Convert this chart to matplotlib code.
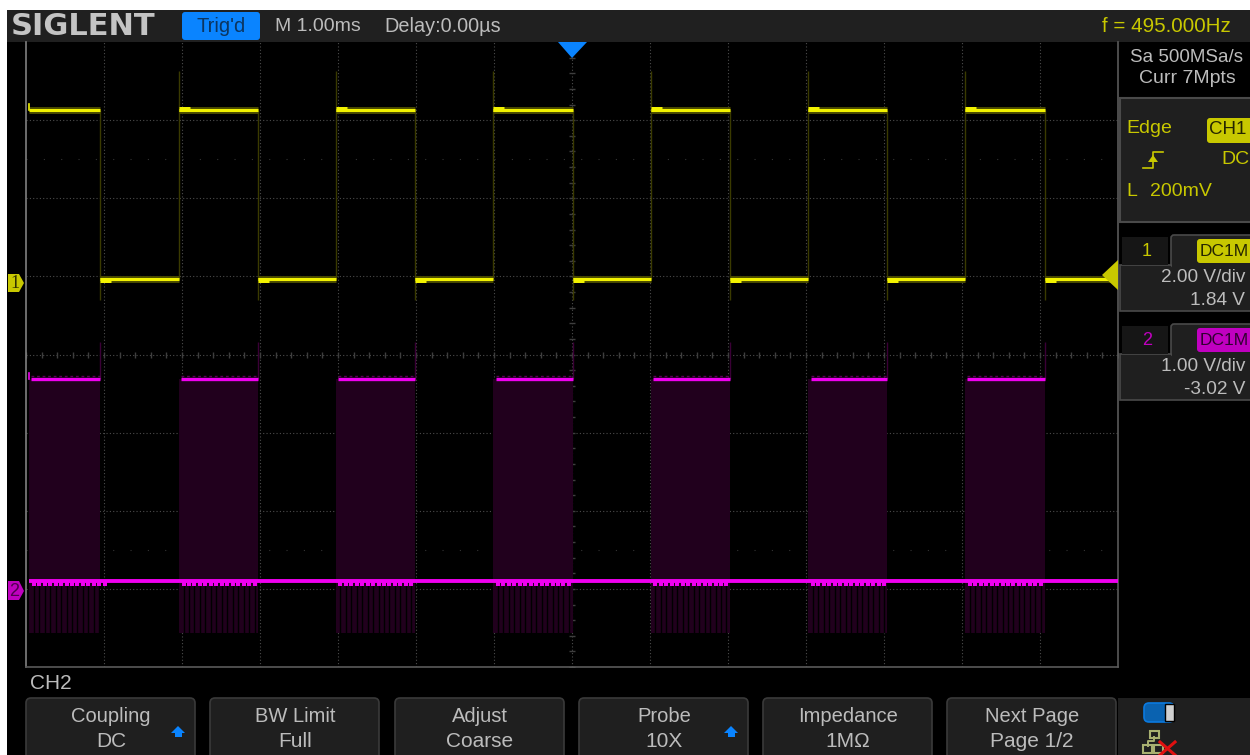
import matplotlib
matplotlib.use("Agg")
import matplotlib.pyplot as plt
from matplotlib.patches import Rectangle, FancyBboxPatch, Polygon

plt.rcParams['font.family'] = ['Liberation Sans', 'DejaVu Sans']

# Scope readings, time in ms, voltages in V
rising_ms = [-6.96, -5.04, -3.03, -1.01, 1.01, 3.03, 5.04]
falling_ms = [-6.05, -4.03, -2.01, 0.01, 2.03, 4.04, 6.06]
ch1_high = 4.42
ch1_low = 0.09
ch1_spike_top = 5.42
ch1_spike_bottom = -0.44
ch2_high = 2.71
ch2_low = 0.12
ch2_comb = -0.55
ch2_edge_top = 3.18
comb_offsets = [0.06, 0.13, 0.20, 0.27, 0.34, 0.41, 0.48, 0.55, 0.62, 0.69, 0.76, 0.83, 0.90, 0.97]

ch1_scale, ch1_offset = 2.0, 1.84
ch2_scale, ch2_offset = 1.0, -3.02

button_top = ["Coupling", "BW Limit", "Adjust", "Probe", "Impedance", "Next Page"]
button_bottom = ["DC", "Full", "Coarse", "10X", "1MΩ", "Page 1/2"]
button_left = [26, 210, 395, 579, 763, 947]
button_arrow = [True, False, False, True, False, False]

YELLOW = "#f2f200"
DIM_YELLOW = "#c8c800"
MAGENTA = "#f000f0"
DIM_MAGENTA = "#c000c0"
PANEL = "#1f1f1f"
EDGE = "#4a4a4a"
TEXT = "#bcbcbc"
BLUE = "#0a84ff"


def ch1(v):
    return (v + ch1_offset) / ch1_scale


def ch2(v):
    return (v + ch2_offset) / ch2_scale


fig = plt.figure(figsize=(12.5, 7.55), dpi=100, facecolor="white")

# Whole picture in pixels, for the instrument chrome
ui = fig.add_axes([0, 0, 1, 1], zorder=1)
ui.set_xlim(0, 1250)
ui.set_ylim(755, 0)
ui.axis("off")

ui.add_patch(Rectangle((7, 10), 1243, 745, fc="black", ec="none"))
ui.add_patch(Rectangle((7, 10), 1243, 32, fc="#202020", ec="none"))

# Plot area, one unit per division on y and 1 ms per division on x
ax = fig.add_axes([26 / 1250, 88 / 755, 1092 / 1250, 625 / 755], zorder=2)
ax.set_facecolor("black")
ax.set_xlim(-7, 7)
ax.set_ylim(-4, 4)
ax.set_xticks([])
ax.set_yticks([])
for s in ax.spines.values():
    s.set_color("#5a5a5a")
    s.set_linewidth(1.2)
ax.spines["left"].set_color("#808080")
ax.spines["top"].set_visible(False)

dots = (0, (1, 2))
for d in range(-6, 7):
    ax.axvline(d, color="#4c4c4c", lw=0.8, ls=dots, zorder=1)
for d in range(-3, 4):
    ax.axhline(d, color="#4c4c4c", lw=0.8, ls=dots, zorder=1)
for d in [-2.5, 2.5]:
    ax.axhline(d, color="#343434", lw=0.8, ls=(0, (1, 14.6)), zorder=1)

# Fifth-of-a-division ticks along the two centre lines
fifths = [i / 5 for i in range(-35, 36)]
ax.plot(fifths, [0] * len(fifths), "|", color="#3e3e3e", ms=4, mew=1, zorder=1)
fifths_y = [i / 5 for i in range(-20, 21)]
ax.plot([0] * len(fifths_y), fifths_y, "_", color="#3e3e3e", ms=4, mew=1, zorder=1)

# CH2 envelope goes under the traces and hides the grid
for r, f in zip(rising_ms, falling_ms):
    ax.fill_between([r, f], ch2(ch2_comb), ch2(ch2_high), color="#21001d", lw=0, zorder=2)
    for c in comb_offsets:
        ax.vlines(r + c, ch2(ch2_comb), ch2(ch2_low) - 0.05, color="black", lw=1.0, zorder=3)
        ax.plot([r + c], [ch2(ch2_low) - 0.035], "s", color=MAGENTA, ms=3.4, mew=0, zorder=5)
    ax.vlines(f, ch2(ch2_high), ch2(ch2_edge_top), color="#3a0036", lw=1, zorder=3)
    ax.plot([r + 0.03, f], [ch2(ch2_high) + 0.04] * 2, color="#5a0056", lw=1, ls=(0, (2, 2)), zorder=4)
    ax.plot([r + 0.03, f], [ch2(ch2_high), ch2(ch2_high)], color=MAGENTA, lw=2.4, zorder=5,
            solid_capstyle="butt")
ax.plot([-6.96, 7], [ch2(ch2_low), ch2(ch2_low)], color=MAGENTA, lw=2.8, zorder=5,
        solid_capstyle="butt")
ax.plot([-6.96, -6.96], [ch2(ch2_high), ch2(ch2_high) + 0.07], color=MAGENTA, lw=1.2, zorder=5)

# CH1 square wave
for r in rising_ms[1:]:
    ax.vlines(r, ch1(ch1_low), ch1(ch1_spike_top), color="#3a3a00", lw=1, zorder=3)
for f in falling_ms:
    ax.vlines(f, ch1(ch1_spike_bottom), ch1(ch1_high), color="#3a3a00", lw=1, zorder=3)
for i, (r, f) in enumerate(zip(rising_ms, falling_ms)):
    ax.plot([r, f], [ch1(ch1_high), ch1(ch1_high)], color="#4a4a00", lw=5, zorder=4,
            solid_capstyle="butt")
    ax.plot([r, f], [ch1(ch1_high), ch1(ch1_high)], color=YELLOW, lw=2.2, zorder=5,
            solid_capstyle="butt")
    if i:
        ax.plot([r, r + 0.14], [ch1(ch1_high) + 0.012] * 2, color=YELLOW, lw=3.6, zorder=5,
                solid_capstyle="butt")
    else:
        ax.plot([r, r], [ch1(ch1_high), ch1(ch1_high) + 0.08], color=YELLOW, lw=1.2, zorder=5)
for f, r in zip(falling_ms, rising_ms[1:] + [7.0]):
    ax.plot([f, r], [ch1(ch1_low), ch1(ch1_low)], color="#4a4a00", lw=5, zorder=4,
            solid_capstyle="butt")
    ax.plot([f, r], [ch1(ch1_low), ch1(ch1_low)], color=YELLOW, lw=2.2, zorder=5,
            solid_capstyle="butt")
    ax.plot([f, f + 0.14], [ch1(ch1_low) - 0.012] * 2, color=YELLOW, lw=3.6, zorder=5,
            solid_capstyle="butt")

# Overlay for markers and text that sit over the plot
top = fig.add_axes([0, 0, 1, 1], zorder=3)
top.set_xlim(0, 1250)
top.set_ylim(755, 0)
top.axis("off")
top.patch.set_alpha(0)


def label(x, y, s, color=TEXT, size=14, ha="center", **kw):
    top.text(x, y + 1.5, s, color=color, fontsize=size, ha=ha, va="center", **kw)


def box(x, y, w, h, fc, ec="none", pad=3, lw=1):
    top.add_patch(FancyBboxPatch((x + pad, y + pad), w - 2 * pad, h - 2 * pad,
                                 boxstyle="round,pad=%d" % pad, fc=fc, ec=ec, lw=lw))


top.add_patch(Polygon([(558, 42), (587, 42), (572, 58)], fc=BLUE, ec="none"))
top.add_patch(Polygon([(1118, 260), (1118, 290), (1102, 275)], fc=DIM_YELLOW, ec="none"))
top.add_patch(Polygon([(8, 274), (19, 274), (24, 283), (19, 292), (8, 292)], fc=DIM_YELLOW, ec="none"))
top.add_patch(Polygon([(8, 581), (19, 581), (24, 591), (19, 600), (8, 600)], fc=DIM_MAGENTA, ec="none"))
label(14.5, 282, "1", color="#303000", size=13, family="Liberation Serif")
label(14.5, 590, "2", color="#500050", size=13)

# Header
label(83, 25, "SIGLENT", color="#c4c4c4", size=22, fontweight="bold", family="DejaVu Sans")
box(182, 12, 78, 28, BLUE)
label(221, 25, "Trig'd", color="#0c3560", size=14.5)
label(318, 25, "M 1.00ms", size=14)
label(443, 25, "Delay:0.00µs", size=14.3)
label(1166, 25, "f = 495.000Hz", color=DIM_YELLOW, size=14.8)

# Right hand panels
label(1187, 56, "Sa 500MSa/s", size=13.5)
label(1187, 77, "Curr 7Mpts", size=14)

top.add_patch(Rectangle((1120, 98), 135, 124, fc=PANEL, ec=EDGE, lw=1.5))
label(1126, 127, "Edge", color=DIM_YELLOW, size=14, ha="left")
box(1207, 118, 50, 25, DIM_YELLOW)
label(1228, 128, "CH1", color="#252500", size=13.5)
label(1235, 158, "DC", color=DIM_YELLOW, size=14)
label(1126, 190, "L", color=DIM_YELLOW, size=14, ha="left")
label(1181, 190, "200mV", color=DIM_YELLOW, size=14)
top.plot([1143, 1153, 1153, 1163], [168, 168, 152, 152], color=DIM_YELLOW, lw=1.2)
top.add_patch(Polygon([(1148, 162), (1158, 162), (1153, 155)], fc=DIM_YELLOW, ec="none"))

panels = [(235, "1", DIM_YELLOW, "#252500", "2.00 V/div", "1.84 V"),
          (324, "2", DIM_MAGENTA, "#300030", "1.00 V/div", "-3.02 V")]
for y, name, col, txt, div, off in panels:
    top.add_patch(Rectangle((1120, y + 30), 135, 46, fc=PANEL, ec=EDGE, lw=1.2))
    box(1171, y, 85, 32, PANEL, ec=EDGE, lw=1.2)
    top.add_patch(Rectangle((1172, y + 28), 80, 5, fc=PANEL, ec="none"))
    top.add_patch(Rectangle((1122, y + 2), 46, 28, fc="#161616", ec="none"))
    label(1147, y + 15, name, color=col, size=13)
    box(1197, y + 4, 60, 24, col)
    label(1200, y + 15, "DC1M", color=txt, size=12.5, ha="left")
    label(1245, y + 41, div, size=13.7, ha="right")
    label(1245, y + 64, off, size=13.7, ha="right")

# Soft keys
label(30, 682, "CH2", size=15, ha="left")
for x, t, b, arrow in zip(button_left, button_top, button_bottom, button_arrow):
    box(x, 698, 169, 70, PANEL, ec="#3a3a3a", pad=5, lw=1.2)
    label(x + 85, 715, t, size=14.5)
    label(x + 85, 740, b, size=15)
    if arrow:
        top.add_patch(Polygon([(x + 145, 733), (x + 152, 726), (x + 159, 733)], fc=BLUE, ec="none"))
        top.add_patch(Rectangle((x + 148.5, 733), 7, 4, fc=BLUE, ec="none"))

# Status corner
top.add_patch(Rectangle((1118, 698), 132, 57, fc=PANEL, ec="none"))
box(1144, 703, 30, 19, "#0a62b0", ec="#0a7ae0", pad=5, lw=1.2)
top.add_patch(Rectangle((1165, 704), 9, 17, fc="#d0d0d0", ec="black", lw=1))
top.add_patch(Rectangle((1154, 745), 9, 8, fc="none", ec="#a8b070", lw=1.5))
top.add_patch(Rectangle((1143, 745), 9, 8, fc="none", ec="#a8b070", lw=1.5))
top.plot([1154, 1154, 1148, 1148], [737, 741, 741, 746], color="#a8b070", lw=1.4)
top.add_patch(Rectangle((1150, 731), 9, 7, fc="none", ec="#a8b070", lw=1.5))
top.plot([1160, 1175], [742, 755], color="#e01010", lw=2.2)
top.plot([1175, 1160], [742, 755], color="#e01010", lw=2.2)

fig.savefig("out.png", dpi=100, facecolor="white")
